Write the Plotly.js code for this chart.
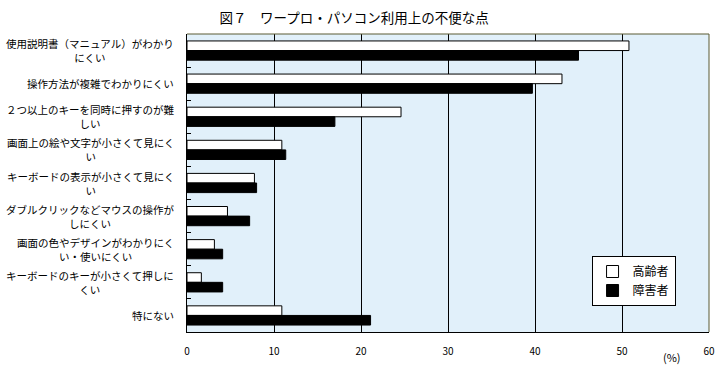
<!DOCTYPE html>
<html>
<head>
<meta charset="utf-8">
<script src="https://cdn.plot.ly/plotly-3.0.1.min.js"></script>
<style>html,body{margin:0;padding:0;background:#fff;}#chart{width:717px;height:370px;}</style>
</head>
<body>
<div id="chart"></div>
<script>
const categories = [
  "使用説明書（マニュアル）がわかりにくい",
  "操作方法が複雑でわかりにくい",
  "２つ以上のキーを同時に押すのが難しい",
  "画面上の絵や文字が小さくて見にくい",
  "キーボードの表示が小さくて見にくい",
  "ダブルクリックなどマウスの操作がしにくい",
  "画面の色やデザインがわかりにくい・使いにくい",
  "キーボードのキーが小さくて押しにくい",
  "特にない"
];
const categoryLabels = [
  "使用説明書（マニュアル）がわかり<br>にくい",
  "操作方法が複雑でわかりにくい",
  "２つ以上のキーを同時に押すのが難<br>しい",
  "画面上の絵や文字が小さくて見にく<br>い",
  "キーボードの表示が小さくて見にく<br>い",
  "ダブルクリックなどマウスの操作が<br>しにくい",
  "画面の色やデザインがわかりにく<br>い・使いにくい",
  "キーボードのキーが小さくて押しに<br>くい",
  "特にない"
];
const seriesNames = ["高齢者", "障害者"];
const elderly = [50.8, 43.1, 24.6, 10.9, 7.75, 4.65, 3.15, 1.65, 10.9];
const disabled = [45.0, 39.7, 17.0, 11.35, 8.0, 7.2, 4.1, 4.1, 21.1];
const xTicks = [0, 10, 20, 30, 40, 50, 60];

const jp = "Noto Sans CJK JP";

const traces = [
  {
    type: "bar", orientation: "h", name: seriesNames[0],
    y: categories, x: elderly,
    marker: {color: "#ffffff", line: {color: "#000000", width: 1}},
    hoverinfo: "skip"
  },
  {
    type: "bar", orientation: "h", name: seriesNames[1],
    y: categories, x: disabled,
    marker: {color: "#000000", line: {color: "#000000", width: 1}},
    hoverinfo: "skip"
  }
];

const annotations = categories.map((c, i) => ({
  xref: "paper", yref: "y", x: -0.021, y: c,
  xanchor: "right", yanchor: "middle", align: "center",
  text: categoryLabels[i], showarrow: false,
  font: {family: jp, size: 10.5, color: "#000"}
}));
annotations.push({
  xref: "paper", yref: "paper", x: 0.93, y: -0.085,
  xanchor: "center", yanchor: "middle",
  text: "(%)", showarrow: false,
  font: {family: jp, size: 11, color: "#000"}
});

const layout = {
  width: 717, height: 370,
  margin: {l: 187, r: 8, t: 34, b: 38},
  paper_bgcolor: "#ffffff",
  plot_bgcolor: "#e1f0fa",
  title: {
    text: "図７　ワープロ・パソコン利用上の不便な点",
    font: {family: jp, size: 13.5, color: "#000"},
    x: 0.494, xanchor: "center", y: 0.951, yanchor: "middle"
  },
  barmode: "group",
  bargap: 0.42,
  bargroupgap: 0,
  xaxis: {
    range: [0, 60], tickvals: xTicks, ticktext: xTicks.map(String),
    showgrid: true, gridcolor: "#000", gridwidth: 1,
    zeroline: false, showline: true, linecolor: "#000", linewidth: 1,
    ticks: "", ticklabelstandoff: 10,
    tickfont: {family: jp, size: 10, color: "#000"},
    fixedrange: true
  },
  yaxis: {
    type: "category", autorange: "reversed",
    showticklabels: false, showgrid: false, zeroline: false,
    showline: true, linecolor: "#000", linewidth: 1,
    ticks: "inside", tickson: "boundaries", ticklen: 4, tickcolor: "#000", tickwidth: 1,
    fixedrange: true
  },
  shapes: [
    {type: "line", xref: "paper", yref: "paper", x0: 0, x1: 1, y0: 1, y1: 1, line: {color: "#5a5a32", width: 1}},
    {type: "line", xref: "paper", yref: "paper", x0: 1, x1: 1, y0: 0, y1: 1, line: {color: "#5a5a32", width: 1}}
  ],
  legend: {
    x: 0.775, y: 0.255, xanchor: "left", yanchor: "top",
    bgcolor: "#ffffff", bordercolor: "#000", borderwidth: 1,
    font: {family: jp, size: 12, color: "#000"},
    itemwidth: 30, tracegroupgap: 2
  },
  annotations: annotations,
  showlegend: true
};

Plotly.newPlot("chart", traces, layout, {displayModeBar: false, staticPlot: true});
</script>
</body>
</html>
